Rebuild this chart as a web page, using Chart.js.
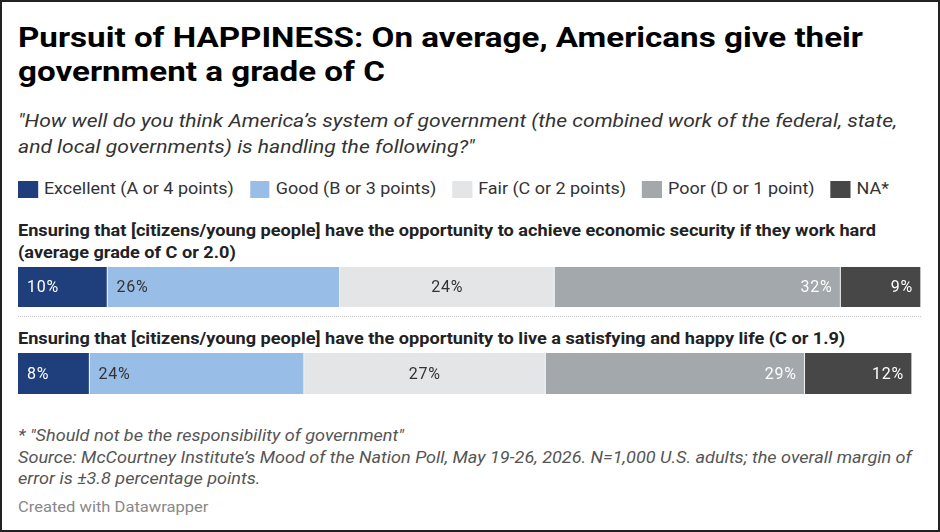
<!DOCTYPE html>
<html>
<head>
<meta charset="utf-8">
<script src="https://cdn.jsdelivr.net/npm/chart.js@4"></script>
<style>
  html, body { margin: 0; padding: 0; background: #fff; }
  body { width: 940px; height: 532px; overflow: hidden; font-family: Roboto, "Noto Sans", sans-serif; }
  #frame { position: relative; width: 940px; height: 532px; box-sizing: border-box; border: 2px solid #222; }
  /* the reference text is set a little wide, so each block is stretched sideways */
  .abs { position: absolute; left: 16px; transform-origin: 0 0; }
  #title { top: 19px; width: 764px; font-size: 28px; font-weight: 700; line-height: 34px; color: #000; transform: scaleX(1.184); }
  #subtitle { top: 106px; width: 772px; font-size: 18px; font-style: italic; line-height: 26px; color: #333; transform: scaleX(1.171); }
  #legend { top: 178px; display: flex; font-size: 16px; color: #333; line-height: 18px; transform: scaleX(1.122); }
  .item { display: flex; align-items: center; margin-right: 14.3px; }
  .swatch { width: 17.8px; height: 17px; margin-right: 5.3px; }
  .qtitle { width: 798px; font-size: 16px; font-weight: 700; line-height: 22px; color: #222; transform: scaleX(1.133); }
  #q1 { top: 218px; }
  #q2 { top: 326px; }
  #sep { position: absolute; left: 16px; top: 314px; width: 903px; border-top: 1px dotted #c4c4c4; }
  canvas { position: absolute; left: 16px; }
  #c1 { top: 265px; }
  #c2 { top: 351px; }
  #notes { top: 423px; width: 800px; font-size: 16px; font-style: italic; line-height: 21.5px; color: #555; transform: scaleX(1.13); }
  #credit { top: 497px; font-size: 14px; color: #888; transform: scaleX(1.18); }
</style>
</head>
<body>
<div id="frame">
  <div id="title" class="abs">Pursuit of HAPPINESS: On average, Americans give their government a grade of C</div>
  <div id="subtitle" class="abs">"How well do you think America’s system of government (the combined work of the federal, state, and local governments) is handling the following?"</div>
  <div id="legend" class="abs"></div>
  <div id="q1" class="abs qtitle"></div>
  <canvas id="c1" width="903" height="40" style="width:903px;height:40px"></canvas>
  <div id="sep"></div>
  <div id="q2" class="abs qtitle"></div>
  <canvas id="c2" width="903" height="41" style="width:903px;height:41px"></canvas>
  <div id="notes" class="abs">* "Should not be the responsibility of government"<br>Source: McCourtney Institute’s Mood of the Nation Poll, May 19-26, 2026. N=1,000 U.S. adults; the overall margin of error is ±3.8 percentage points.</div>
  <div id="credit" class="abs">Created with Datawrapper</div>
</div>
<script>
// grades and survey results (percent)
const grades = ["Excellent (A or 4 points)", "Good (B or 3 points)", "Fair (C or 2 points)", "Poor (D or 1 point)", "NA*"];
const questions = [
  "Ensuring that [citizens/young people] have the opportunity to achieve economic security if they work hard (average grade of C or 2.0)",
  "Ensuring that [citizens/young people] have the opportunity to live a satisfying and happy life (C or 1.9)",
];
const economicSecurity = [10, 26, 24, 32, 9];
const happyLife = [8, 24, 27, 29, 12];

const colors = ["#1e3f7b", "#98bde6", "#e4e5e7", "#a2a8ab", "#474747"];
const labelColors = ["#fff", "#333", "#333", "#fff", "#fff"];
const labelAlign = ["left", "left", "center", "right", "right"];

// legend
const legend = document.getElementById("legend");
grades.forEach((g, i) => {
  const item = document.createElement("div");
  item.className = "item";
  item.innerHTML = '<span class="swatch" style="background:' + colors[i] + '"></span>' + g;
  legend.appendChild(item);
});
document.getElementById("q1").textContent = questions[0];
document.getElementById("q2").textContent = questions[1];

// draws the % labels inside each segment
const segmentLabels = {
  id: "segmentLabels",
  afterDatasetsDraw(chart) {
    const ctx = chart.ctx;
    ctx.save();
    ctx.font = "16px Roboto";
    ctx.letterSpacing = "0.75px";
    ctx.textBaseline = "middle";
    chart.data.datasets.forEach((ds, i) => {
      const bar = chart.getDatasetMeta(i).data[0];
      const start = Math.min(bar.base, bar.x), end = Math.max(bar.base, bar.x);
      let x = start + 9;
      if (labelAlign[i] === "center") x = (start + end) / 2;
      if (labelAlign[i] === "right") x = end - 8;
      ctx.textAlign = labelAlign[i];
      ctx.fillStyle = labelColors[i];
      ctx.fillText(ds.data[0] + "%", x, bar.y + 1);
    });
    ctx.restore();
  },
};

function makeChart(id, values, label) {
  new Chart(document.getElementById(id), {
    type: "bar",
    data: {
      labels: [label],
      datasets: grades.map((g, i) => ({
        label: g,
        data: [values[i]],
        backgroundColor: colors[i],
        borderColor: "rgba(255,255,255,0.7)",
        borderWidth: { top: 0, bottom: 0, left: 0, right: 1 },
        borderSkipped: false,
        barPercentage: 1,
        categoryPercentage: 1,
      })),
    },
    options: {
      indexAxis: "y",
      responsive: false,
      animation: false,
      layout: { padding: 0 },
      scales: {
        x: { stacked: true, min: 0, max: 101, display: false },
        y: { stacked: true, display: false },
      },
      plugins: { legend: { display: false }, tooltip: { enabled: false } },
    },
    plugins: [segmentLabels],
  });
}

makeChart("c1", economicSecurity, "Economic security");
makeChart("c2", happyLife, "Happy life");
</script>
</body>
</html>
